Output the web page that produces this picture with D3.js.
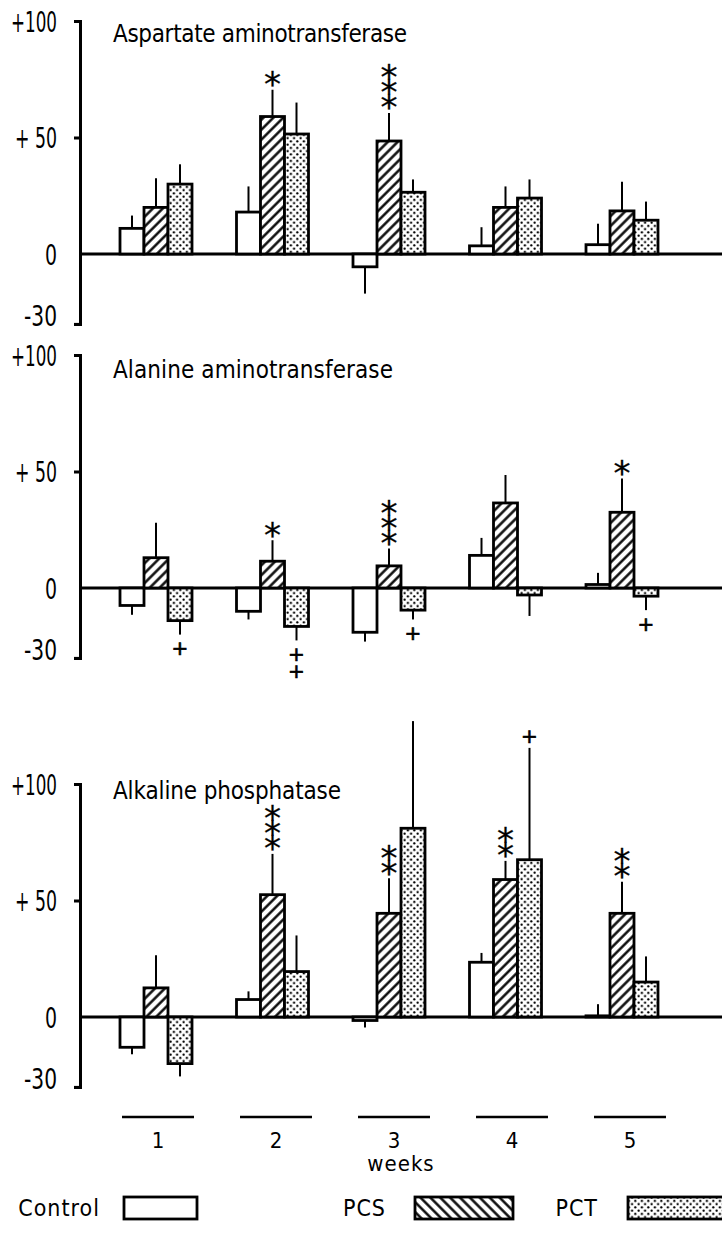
<!DOCTYPE html>
<html>
<head>
<meta charset="utf-8">
<script src="https://cdn.jsdelivr.net/npm/d3@7"></script>
<style>
  html, body { margin: 0; padding: 0; background: #fff; }
  svg { display: block; }
</style>
</head>
<body>
<svg id="chart" width="722" height="1233"></svg>
<script>
// ---- data -------------------------------------------------------------
const weeks = ["1", "2", "3", "4", "5"];
const groups = ["Control", "PCS", "PCT"];
const panelTitles = ["Aspartate aminotransferase", "Alanine aminotransferase", "Alkaline phosphatase"];
const yTickValues = [-30, 0, 50, 100];
const yTickLabels = ["-30", "0", "+ 50", "+100"];
const xAxisTitle = "weeks";

// Aspartate aminotransferase (% change, mean and SEM)
const astControl    = [11, 18, -5.5, 3.5, 4];
const astControlErr = [5.5, 11, 11.5, 8, 9];
const astPCS        = [20, 59, 48.5, 20, 18.5];
const astPCSErr     = [12.5, 11.5, 12, 9, 12.5];
const astPCT        = [30, 51.5, 26.5, 24, 14.5];
const astPCTErr     = [8.5, 13.5, 5.5, 8, 8];
const astMarks = [
  { week: "2", group: "PCS", symbol: "*", count: 1 },
  { week: "3", group: "PCS", symbol: "*", count: 3 }
];

// Alanine aminotransferase
const altControl    = [-7.5, -10, -19, 14, 1.5];
const altControlErr = [4, 3.5, 4, 7.5, 5];
const altPCS        = [13, 11.5, 9.5, 36.5, 32.5];
const altPCSErr     = [15, 9, 7.5, 12, 14.5];
const altPCT        = [-14, -16.5, -9.5, -3, -3.5];
const altPCTErr     = [6, 6, 4, 9, 6];
const altMarks = [
  { week: "1", group: "PCT", symbol: "+", count: 1 },
  { week: "2", group: "PCS", symbol: "*", count: 1 },
  { week: "2", group: "PCT", symbol: "+", count: 2 },
  { week: "3", group: "PCS", symbol: "*", count: 3 },
  { week: "3", group: "PCT", symbol: "+", count: 1 },
  { week: "5", group: "PCS", symbol: "*", count: 1 },
  { week: "5", group: "PCT", symbol: "+", count: 1 }
];

// Alkaline phosphatase
const alpControl    = [-13, 7.5, -1.5, 23.5, 0.5];
const alpControlErr = [3, 3.5, 3, 4, 5];
const alpPCS        = [12.5, 52.5, 44.5, 59, 44.5];
const alpPCSErr     = [14, 17.5, 15, 8, 13.5];
const alpPCT        = [-20, 19.5, 81, 67.5, 15];
const alpPCTErr     = [5.5, 15.5, 46, 48, 11];
const alpMarks = [
  { week: "2", group: "PCS", symbol: "*", count: 3 },
  { week: "3", group: "PCS", symbol: "*", count: 2 },
  { week: "4", group: "PCS", symbol: "*", count: 2 },
  { week: "4", group: "PCT", symbol: "+", count: 1 },
  { week: "5", group: "PCS", symbol: "*", count: 2 }
];

// ---- layout -------------------------------------------------------------
const FONT = "'Liberation Sans Narrow', 'DejaVu Sans Condensed', 'Arial Narrow', sans-serif";
const MARK_FONT = "'DejaVu Sans', sans-serif";
const MARK_ASCENT = 0.928;                 // DejaVu Sans ascent (em)
const MARK_INK_MID = { "*": 0.585, "+": 0.36 }; // glyph ink centre above baseline (em)
const PX_PER_UNIT = 2.33;
const AXIS_X = 80;
const RIGHT = 722;
// rendered widths of the condensed tick labels
const tickLabelWidth = { "-30": 33, "0": 12, "+ 50": 42, "+100": 46 };

const panels = [
  { title: panelTitles[0], zeroY: 254, titleY: 42, titleLen: 294,
    values: [astControl, astPCS, astPCT], errs: [astControlErr, astPCSErr, astPCTErr], marks: astMarks },
  { title: panelTitles[1], zeroY: 588, titleY: 378, titleLen: 280,
    values: [altControl, altPCS, altPCT], errs: [altControlErr, altPCSErr, altPCTErr], marks: altMarks },
  { title: panelTitles[2], zeroY: 1017, titleY: 799, titleLen: 228,
    values: [alpControl, alpPCS, alpPCT], errs: [alpControlErr, alpPCSErr, alpPCTErr], marks: alpMarks }
];

const svg = d3.select("#chart");

// ---- fill patterns --------------------------------------------------------
const defs = svg.append("defs");
function hatch(id, angle) {
  const p = defs.append("pattern")
    .attr("id", id)
    .attr("patternUnits", "userSpaceOnUse")
    .attr("width", 7).attr("height", 7)
    .attr("patternTransform", `rotate(${angle})`);
  p.append("rect").attr("width", 7).attr("height", 7).attr("fill", "#fff");
  p.append("line").attr("x1", 3.5).attr("y1", 0).attr("x2", 3.5).attr("y2", 7)
    .attr("stroke", "#000").attr("stroke-width", 2.4);
}
hatch("hatchFwd", 45);
hatch("hatchBack", -45);

const dots = defs.append("pattern")
  .attr("id", "dots")
  .attr("patternUnits", "userSpaceOnUse")
  .attr("width", 6.5).attr("height", 6.5);
dots.append("rect").attr("width", 6.5).attr("height", 6.5).attr("fill", "#fff");
dots.append("circle").attr("cx", 1.6).attr("cy", 1.6).attr("r", 1.15).attr("fill", "#000");
dots.append("circle").attr("cx", 4.85).attr("cy", 4.85).attr("r", 1.15).attr("fill", "#000");

const barFill = { Control: "#fff", PCS: "url(#hatchFwd)", PCT: "url(#dots)" };
const legendFill = { Control: "#fff", PCS: "url(#hatchBack)", PCT: "url(#dots)" };

// ---- scales ---------------------------------------------------------------
const x = d3.scaleBand()
  .domain(weeks)
  .range([97.75, 680.25])
  .paddingInner(0.382)
  .paddingOuter(0.191);

const xSub = d3.scaleBand()
  .domain(groups)
  .range([0, x.bandwidth()])
  .padding(0);

// ---- panels ---------------------------------------------------------------
panels.forEach(panel => {
  const y = d3.scaleLinear()
    .domain([-30, 100])
    .range([panel.zeroY + 30 * PX_PER_UNIT, panel.zeroY - 100 * PX_PER_UNIT]);

  const g = svg.append("g");

  const rows = [];
  groups.forEach((grp, gi) => {
    weeks.forEach((wk, wi) => {
      rows.push({ week: wk, group: grp, value: panel.values[gi][wi], err: panel.errs[gi][wi] });
    });
  });
  const cx = d => x(d.week) + xSub(d.group) + xSub.bandwidth() / 2;
  const errEnd = d => d.value >= 0 ? d.value + d.err : d.value - d.err;

  // error lines
  g.selectAll("line.err")
    .data(rows)
    .join("line")
    .attr("class", "err")
    .attr("x1", cx).attr("x2", cx)
    .attr("y1", d => y(d.value))
    .attr("y2", d => y(errEnd(d)))
    .attr("stroke", "#000")
    .attr("stroke-width", 2);

  // zero line
  g.append("line")
    .attr("x1", AXIS_X).attr("x2", RIGHT)
    .attr("y1", y(0)).attr("y2", y(0))
    .attr("stroke", "#000")
    .attr("stroke-width", 3);

  // bars
  g.selectAll("rect.bar")
    .data(rows)
    .join("rect")
    .attr("class", "bar")
    .attr("x", d => x(d.week) + xSub(d.group))
    .attr("width", xSub.bandwidth())
    .attr("y", d => y(Math.max(0, d.value)))
    .attr("height", d => Math.abs(y(d.value) - y(0)))
    .attr("fill", d => barFill[d.group])
    .attr("stroke", "#000")
    .attr("stroke-width", 2.8);

  // y axis (bracket style)
  const axis = d3.axisLeft(y)
    .tickValues(yTickValues)
    .tickSize(6)
    .tickSizeOuter(6)
    .tickPadding(17)
    .tickFormat(v => yTickLabels[yTickValues.indexOf(v)]);
  const ag = g.append("g")
    .attr("transform", `translate(${AXIS_X},0)`)
    .call(axis);
  ag.select(".domain").attr("stroke", "#000").attr("stroke-width", 3);
  ag.selectAll(".tick line").attr("stroke", "#000").attr("stroke-width", 3)
    .attr("display", v => v === 0 ? "none" : null);
  ag.selectAll(".tick text")
    .attr("fill", "#000")
    .attr("dy", v => v === -30 ? "0.05em" : "0.36em")
    .attr("textLength", function () { return tickLabelWidth[this.textContent]; })
    .attr("lengthAdjust", "spacingAndGlyphs")
    .style("font-family", FONT)
    .style("font-size", "28px");

  // significance marks: each stack is one vertical run of symbols
  panel.marks.forEach(m => {
    const row = rows.find(r => r.week === m.week && r.group === m.group);
    const dir = row.value >= 0 ? -1 : 1;
    const end = y(errEnd(row));
    const isStar = m.symbol === "*";
    const first = isStar ? 14 : 13;
    const step = isStar ? 15 : 17;
    const size = isStar ? 34 : 20;
    const stackMid = end + dir * (first + (m.count - 1) * step / 2);
    g.append("text")
      .attr("class", "sig")
      .attr("x", cx(row))
      .attr("y", stackMid)
      .attr("text-anchor", "middle")
      .style("writing-mode", "vertical-rl")
      .style("text-orientation", "upright")
      .style("font-family", MARK_FONT)
      .style("font-size", size + "px")
      .attr("fill", "#000")
      .attr("stroke", "#000")
      .attr("stroke-width", isStar ? 0.3 : 0.7)
      .attr("data-step", step)
      .attr("data-size", size)
      .text(m.symbol.repeat(m.count));
  });

  // panel title
  g.append("text")
    .attr("x", 113)
    .attr("y", panel.titleY)
    .attr("textLength", panel.titleLen)
    .attr("lengthAdjust", "spacing")
    .style("font-family", FONT)
    .style("font-size", "24px")
    .attr("fill", "#000")
    .text(panel.title);
});

// tighten each vertical stack so successive symbols sit one step apart,
// then shift it so the glyph inks are centred on the anchor
svg.selectAll("text.sig").each(function () {
  const t = d3.select(this);
  const sym = this.textContent[0];
  const n = this.textContent.length;
  const step = +t.attr("data-step");
  const size = +t.attr("data-size");
  if (n > 1) {
    const adv = this.getStartPositionOfChar(1).y - this.getStartPositionOfChar(0).y;
    t.style("letter-spacing", (step - adv) + "px");
  }
  const anchorY = +t.attr("y");
  const s0 = this.getStartPositionOfChar(0).y;
  const sN = this.getStartPositionOfChar(n - 1).y;
  const inkOffset = (MARK_ASCENT - MARK_INK_MID[sym]) * size;
  const inkMid = (s0 + sN) / 2 + inkOffset;
  t.attr("y", anchorY + (anchorY - inkMid));
});

// ---- week axis ------------------------------------------------------------
const xWeeks = d3.scaleBand()
  .domain(weeks)
  .range([99, 689])
  .paddingInner(0.39)
  .paddingOuter(0.195);

const wk = svg.append("g");
wk.selectAll("line")
  .data(weeks)
  .join("line")
  .attr("x1", d => xWeeks(d))
  .attr("x2", d => xWeeks(d) + xWeeks.bandwidth())
  .attr("y1", 1117).attr("y2", 1117)
  .attr("stroke", "#000")
  .attr("stroke-width", 2.5);
wk.selectAll("text")
  .data(weeks)
  .join("text")
  .attr("x", d => xWeeks(d) + xWeeks.bandwidth() / 2)
  .attr("y", 1148)
  .attr("text-anchor", "middle")
  .style("font-family", FONT)
  .style("font-size", "22px")
  .attr("fill", "#000")
  .text(d => d);

svg.append("text")
  .attr("x", 401)
  .attr("y", 1171)
  .attr("text-anchor", "middle")
  .style("font-family", FONT)
  .style("font-size", "22px")
  .style("letter-spacing", "1px")
  .attr("fill", "#000")
  .text(xAxisTitle);

// ---- legend ---------------------------------------------------------------
const legendItems = [
  { group: "Control", textEnd: 100, boxX: 124, boxW: 73 },
  { group: "PCS", textEnd: 386, boxX: 415, boxW: 98 },
  { group: "PCT", textEnd: 598, boxX: 628, boxW: 98 }
];
const lg = svg.append("g");
legendItems.forEach(item => {
  lg.append("text")
    .attr("x", item.textEnd)
    .attr("y", 1216)
    .attr("text-anchor", "end")
    .style("font-family", FONT)
    .style("font-size", "23px")
    .style("letter-spacing", "1px")
    .attr("fill", "#000")
    .text(item.group);
  lg.append("rect")
    .attr("x", item.boxX)
    .attr("y", 1197)
    .attr("width", item.boxW)
    .attr("height", 22)
    .attr("fill", legendFill[item.group])
    .attr("stroke", "#000")
    .attr("stroke-width", 2.8);
});
</script>
</body>
</html>
